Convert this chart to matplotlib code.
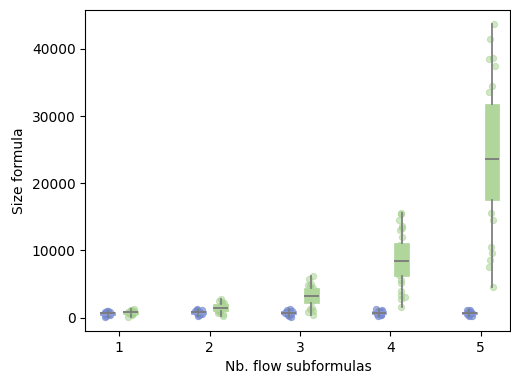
import numpy as np
import matplotlib.pyplot as plt

# number of flow subformulas (x categories)
categories = [1, 2, 3, 4, 5]

# formula sizes, first series (blue)
blue_sizes = [
    [100, 250, 380, 480, 560, 620, 660, 720, 800, 880, 950, 1050],
    [200, 350, 500, 600, 700, 770, 830, 900, 1000, 1100, 1200, 1350],
    [150, 300, 420, 520, 620, 680, 720, 800, 900, 1000, 1100, 1250],
    [200, 330, 450, 560, 650, 720, 780, 850, 950, 1050, 1150, 1300],
    [180, 310, 430, 540, 630, 690, 710, 790, 880, 980, 1080, 1200],
]

# formula sizes, second series (green)
green_sizes = [
    [150, 350, 500, 600, 700, 750, 850, 900, 1000, 1100, 1200, 1350],
    [300, 500, 700, 900, 1000, 1200, 1300, 1400, 1500, 1650, 1800, 1900,
     2100, 2300, 2500, 2700],
    [400, 800, 1040, 1250, 1390, 2460, 2700, 2900, 3050, 3180, 3300, 3500,
     3800, 4100, 4340, 4700, 4780, 5030, 5780, 6170],
    [1540, 2790, 3100, 3390, 3930, 5120, 5670, 6270, 6600, 7000, 7300, 7700,
     8000, 8200, 8520, 8900, 9300, 9700, 10100, 10500, 10870, 12000, 13100,
     13400, 13700, 14600, 15370, 15570],
    [4580, 7600, 8600, 9650, 10500, 14600, 15600, 18100, 19000, 20000, 21000,
     22000, 23000, 23300, 23900, 25000, 26000, 27500, 29000, 30200, 31100,
     33600, 34500, 37500, 38500, 38700, 41500, 43650],
]

series = [
    (blue_sizes, -0.125, "#7389d0", "#8a9dd8", 0.65),
    (green_sizes, 0.125, "#a3d18c", "#b0d69c", 0.5),
]

fig = plt.figure(figsize=(5.11, 3.81), dpi=100)
ax = fig.add_axes([0.167, 0.131, 0.832, 0.842])

rng = np.random.default_rng(3)
x = np.array(categories, dtype=float)

for data, off, pcol, bcol, alpha in series:
    pos = x + off
    # jittered points under the boxes
    for p, vals in zip(pos, data):
        jit = rng.uniform(-0.04, 0.04, len(vals))
        ax.scatter(p + jit, vals, s=20, color=pcol, alpha=alpha,
                   edgecolors=pcol, linewidths=0.8, zorder=1)
    ax.boxplot(data, positions=pos, widths=0.165, whis=(0, 100),
               patch_artist=True, showfliers=False, showcaps=False,
               manage_ticks=False,
               boxprops=dict(facecolor=bcol, edgecolor=bcol, linewidth=0.5),
               whiskerprops=dict(color="#808080", linewidth=1.3),
               medianprops=dict(color="#7a7a7a", linewidth=1.3),
               zorder=2)

ax.set_xticks(categories)
ax.set_xticklabels([str(c) for c in categories])
ax.set_xlim(0.625, 5.33)
ax.set_ylim(-2010, 45750)
ax.set_xlabel("Nb. flow subformulas")
ax.set_ylabel("Size formula")

fig.savefig("out.png", dpi=100)
